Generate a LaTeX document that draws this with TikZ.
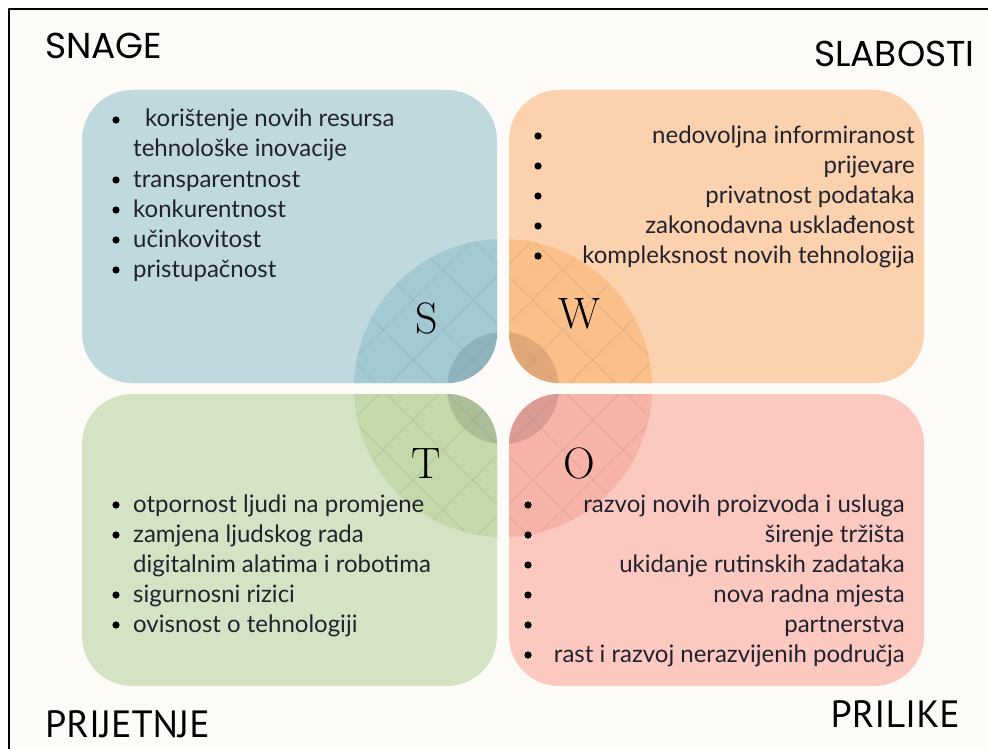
\documentclass[tikz,border=0pt]{standalone}
\usepackage{fontspec}
\setmainfont{Lato}
\newfontfamily\naslovfont{Poppins}
\newfontfamily\uskifont{PT Sans}
\newfontfamily\slovofont{Latin Modern Roman}

\definecolor{pozadina}{HTML}{FDFBF8}
\definecolor{tekst}{HTML}{22222E}
\definecolor{plava}{HTML}{BFD9DE}
\definecolor{plava2}{HTML}{A3C9D3}
\definecolor{plava3}{HTML}{8EB3BC}
\definecolor{narancasta}{HTML}{FCD2AE}
\definecolor{narancasta2}{HTML}{FBBF89}
\definecolor{narancasta3}{HTML}{E0A878}
\definecolor{zelena}{HTML}{D5E3C5}
\definecolor{zelena2}{HTML}{C3D9AA}
\definecolor{zelena3}{HTML}{AABE97}
\definecolor{ruzicasta}{HTML}{FBC9BF}
\definecolor{ruzicasta2}{HTML}{F7B3A7}
\definecolor{ruzicasta3}{HTML}{DC9C96}

\tikzset{
  stavka/.style={inner sep=0pt, text=tekst, font=\fontsize{24}{28}\selectfont},
  naslov/.style={inner sep=0pt, font=\naslovfont\fontsize{36}{40}\selectfont},
  naslov2/.style={inner sep=0pt, font=\uskifont\fontsize{38}{42}\selectfont},
  slovo/.style={inner sep=0pt, anchor=base, font=\slovofont\fontsize{44}{48}\selectfont},
  tocka/.style={fill=black},
  mreza/.style={gray, opacity=0.3, line width=0.6pt}
}

\begin{document}
\begin{tikzpicture}[x=1pt, y=-1pt, line join=round]
    \useasboundingbox (0,0) rectangle (988,749);
    \fill[white] (0,0) rectangle (988,749);
    \fill[pozadina] (9,9) rectangle (988,749);
    \draw[line width=1.6pt] (9,749) -- (9,9) -- (988,9);

    % sredina kruga
    \coordinate (C) at (503,388);

    % cetiri polja s krugom i mrezom
    \foreach \xa/\ya/\xb/\yb/\ba/\bb/\bc in {
        82/90/497/383/plava/plava2/plava3,
        509/90/924/383/narancasta/narancasta2/narancasta3,
        82/394/497/686/zelena/zelena2/zelena3,
        509/394/924/686/ruzicasta/ruzicasta2/ruzicasta3}{
      \fill[\ba, rounded corners=50pt] (\xa,\ya) rectangle (\xb,\yb);
      \begin{scope}
        \clip[rounded corners=50pt] (\xa,\ya) rectangle (\xb,\yb);
        \fill[\bb] (C) circle[radius=149pt];
        \fill[\bc] (C) circle[radius=56pt];
        \clip (C) circle[radius=149pt];
        \foreach \k in {-6,...,6}{
          \draw[mreza] (501+\k*60-200,188) -- (501+\k*60+200,588);
          \draw[mreza] (505+\k*60+200,188) -- (505+\k*60-200,588);
        }
      \end{scope}
    }

    % slova
    \node[slovo] (S) at (427,333) {S};
    \node[slovo] (W) at (580,328) {W};
    \node[slovo] (T) at (426,478) {T};
    \node[slovo] (O) at (579,478) {O};

    % naslovi
    \node[naslov, anchor=base west] (snage) at (45,59) {SNAGE};
    \node[naslov, anchor=base east] (slabosti) at (975,67) {SLABOSTI};
    \node[naslov2, anchor=base west] (prijetnje) at (45,737) {PRIJETNJE};
    \node[naslov2, anchor=base east] (prilike) at (960,727) {PRILIKE};

    % snage
    \node[stavka, anchor=base west] (s1) at (145,127) {korištenje novih resursa};
    \node[stavka, anchor=base west] (s2) at (133,157) {tehnološke inovacije};
    \foreach \t [count=\i from 3] in {transparentnost, konkurentnost, učinkovitost, pristupačnost}
      \node[stavka, anchor=base west] (s\i) at (133,97+30*\i) {\t};
    \foreach \y in {127,187,217,247,277}
      \fill[tocka] (116,\y-7) circle[radius=3.6pt];

    % slabosti
    \foreach \t [count=\i] in {nedovoljna informiranost, prijevare, privatnost podataka,
        zakonodavna usklađenost, kompleksnost novih tehnologija}{
      \node[stavka, anchor=base east] (w\i) at (915,113+30*\i) {\t};
      \fill[tocka] (538,106+30*\i) circle[radius=3.6pt];
    }

    % prijetnje
    \node[stavka, anchor=base west] (t1) at (133,512) {otpornost ljudi na promjene};
    \node[stavka, anchor=base west] (t2) at (133,542) {zamjena ljudskog rada};
    \node[stavka, anchor=base west] (t3) at (133,572) {digitalnim alatima i robotima};
    \node[stavka, anchor=base west] (t4) at (133,602) {sigurnosni rizici};
    \node[stavka, anchor=base west] (t5) at (133,632) {ovisnost o tehnologiji};
    \foreach \y in {512,542,602,632}
      \fill[tocka] (116,\y-7) circle[radius=3.6pt];

    % prilike
    \foreach \t [count=\i] in {razvoj novih proizvoda i usluga, širenje tržišta,
        ukidanje rutinskih zadataka, nova radna mjesta, partnerstva\ ,
        rast i razvoj nerazvijenih područja}{
      \node[stavka, anchor=base east] (o\i) at (905,482+30*\i) {\t};
      \fill[tocka] (528,475+30*\i) circle[radius=3.6pt];
    }
\end{tikzpicture}
\end{document}
